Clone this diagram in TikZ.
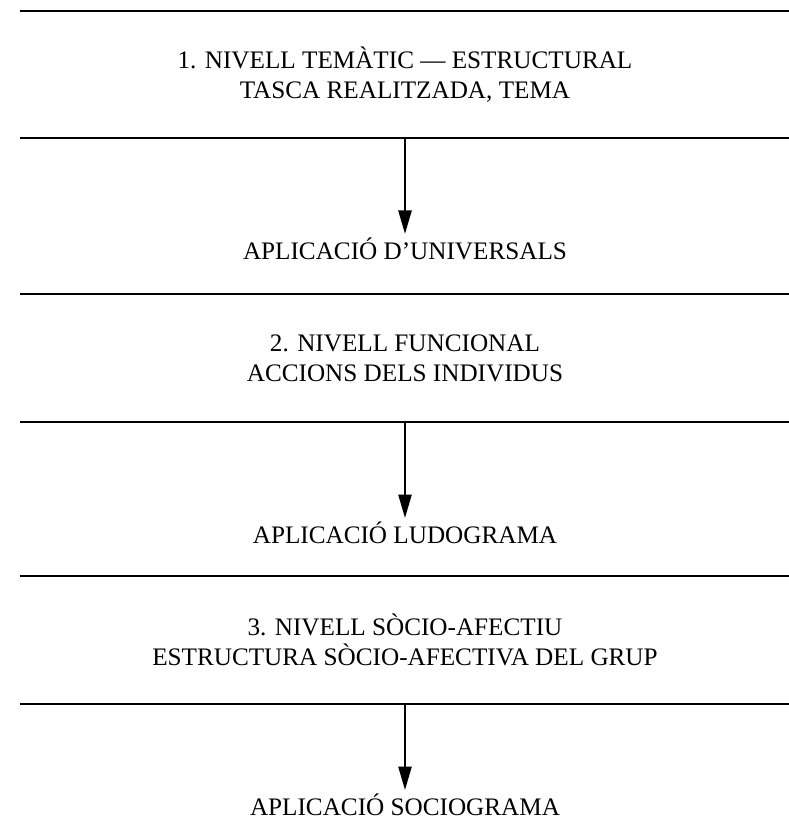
\documentclass[tikz,border=0pt]{standalone}
\usepackage{fontspec}
\setmainfont{Liberation Serif}
\usetikzlibrary{positioning,arrows.meta}

\begin{document}
\begin{tikzpicture}[x=0.03cm,y=-0.03cm,
    font=\fontsize{21.5}{25.6}\selectfont,
    level/.style={minimum width=23.1cm, minimum height=3.81cm, align=center, inner sep=0pt},
    result/.style={inner sep=0pt},
    rule/.style={line width=1.8pt},
    flow/.style={line width=1.3pt, shorten >=1.2mm, -{Triangle[length=7mm,width=4mm]}}]
    \useasboundingbox (0,0) rectangle (789,826);

    % Level 1
    \node[level] (lvl1) at (405,74.5) {1. NIVELL TEMÀTIC — ESTRUCTURAL\\TASCA REALITZADA, TEMA};
    \draw[rule] (lvl1.north west) -- (lvl1.north east);
    \draw[rule] (lvl1.south west) -- (lvl1.south east);
    \node[result] (app1) at (405,249) {APLICACIÓ D’UNIVERSALS};
    \draw[flow] (lvl1.south) -- (app1.north);

    % Level 2
    \node[level] (lvl2) at (405,358) {2. NIVELL FUNCIONAL\\ACCIONS DELS INDIVIDUS};
    \draw[rule] (lvl2.north west) -- (lvl2.north east);
    \draw[rule] (lvl2.south west) -- (lvl2.south east);
    \node[result] (app2) at (405,533) {APLICACIÓ LUDOGRAMA};
    \draw[flow] (lvl2.south) -- (app2.north);

    % Level 3
    \node[level] (lvl3) at (405,640) {3. NIVELL SÒCIO-AFECTIU\\ESTRUCTURA SÒCIO-AFECTIVA DEL GRUP};
    \draw[rule] (lvl3.north west) -- (lvl3.north east);
    \draw[rule] (lvl3.south west) -- (lvl3.south east);
    \node[result] (app3) at (405,805) {APLICACIÓ SOCIOGRAMA};
    \draw[flow] (lvl3.south) -- (app3.north);
\end{tikzpicture}
\end{document}
